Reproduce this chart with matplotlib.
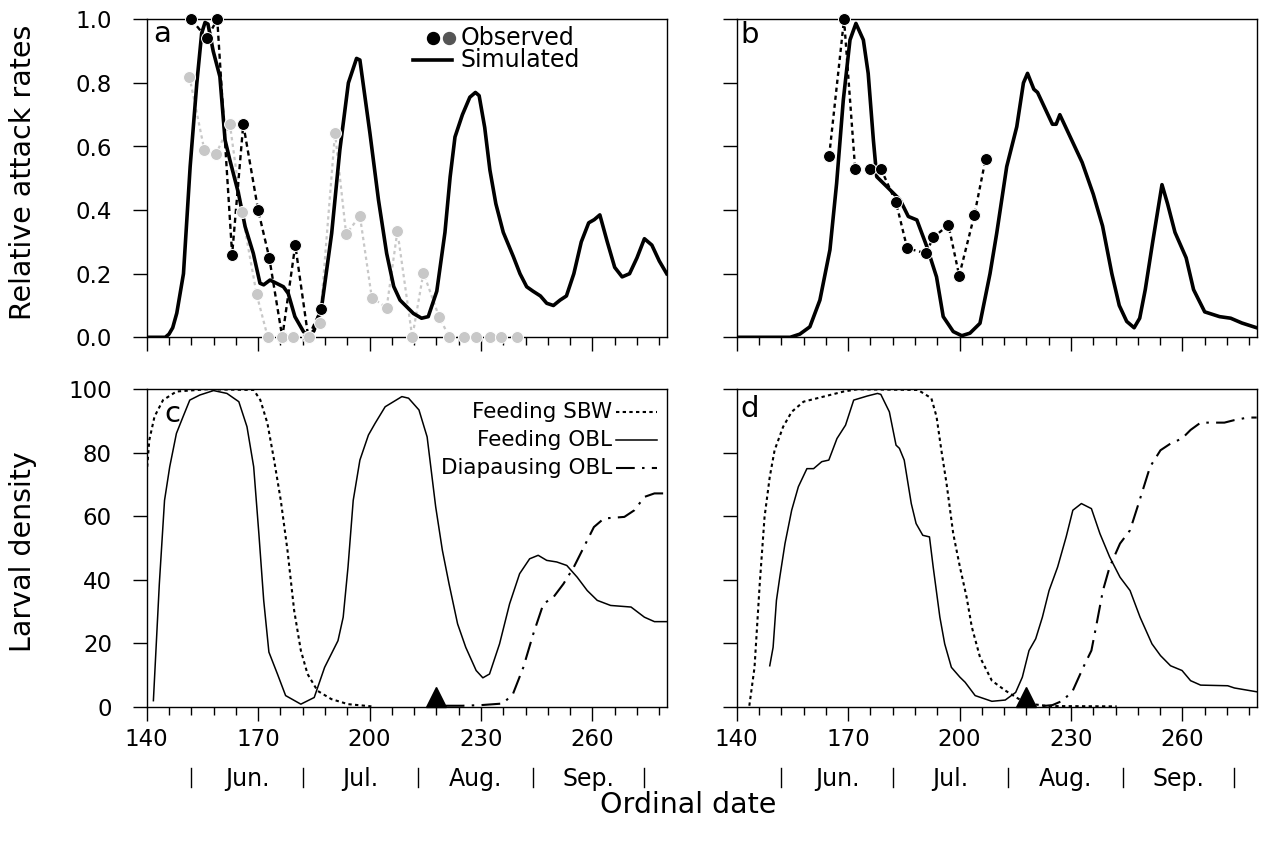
import numpy as np
import matplotlib
matplotlib.use("Agg")
import matplotlib.pyplot as plt
from matplotlib.ticker import FixedLocator
import matplotlib.transforms as mtransforms

plt.rcParams['font.family'] = ['DejaVu Sans']

# ---------------- data ----------------
# Panel a: simulated relative attack rate
a_sim_day = [140, 145, 146, 147, 148.1, 149.9, 151.7, 153.5, 154.8, 155.7, 156.5, 157.9, 159.7, 161.1,
             162.4, 164.7, 166.5, 168.7, 170.5, 171.5, 173.2, 176.8, 178.1, 179.9, 182.2, 183.5, 185,
             187.1, 189.8, 192.0, 194.3, 196.5, 197.4, 200.1, 202.4, 204.6, 206.5, 208.2, 211.8, 214.0,
             215.8, 218.1, 220.3, 221.7, 223, 225, 227, 228.5, 229.5, 231, 232.4, 234, 236, 238.7,
             240.5, 242.3, 244, 246, 247.7, 249.5, 251.3, 253, 255, 257, 259, 260.5, 262, 264, 266,
             268, 270, 272, 274, 276, 278, 280]
a_sim_val = [0, 0, 0.01, 0.03, 0.076, 0.20, 0.537, 0.80, 0.956, 0.99, 0.985, 0.90, 0.82, 0.62,
             0.557, 0.453, 0.348, 0.264, 0.17, 0.165, 0.18, 0.159, 0.138, 0.065, 0.018, 0.005, 0.02,
             0.096, 0.327, 0.589, 0.80, 0.877, 0.872, 0.642, 0.432, 0.264, 0.16, 0.117, 0.075, 0.06,
             0.065, 0.145, 0.33, 0.505, 0.63, 0.70, 0.755, 0.77, 0.76, 0.66, 0.526, 0.42, 0.33, 0.254,
             0.2, 0.159, 0.145, 0.13, 0.107, 0.10, 0.117, 0.13, 0.2, 0.3, 0.36, 0.37, 0.385, 0.30, 0.22,
             0.19, 0.2, 0.25, 0.31, 0.29, 0.24, 0.2]
# Panel a: observed (black and grey series)
a_obs1_day = [152, 156.2, 159, 163, 166, 170, 173, 176.5, 180, 183.5, 187]
a_obs1_val = [1.0, 0.94, 1.0, 0.26, 0.67, 0.40, 0.25, 0.0, 0.29, 0.0, 0.09]
a_obs2_day = [151.5, 155.5, 158.6, 162.4, 165.6, 169.6, 172.6, 176.4, 179.5, 183.7, 186.6, 190.7,
              193.7, 197.4, 200.6, 204.6, 207.5, 211.5, 214.5, 218.7, 221.5, 225.4, 228.6, 232.4,
              235.4, 239.6]
a_obs2_val = [0.82, 0.59, 0.575, 0.67, 0.395, 0.135, 0, 0, 0, 0, 0.044, 0.643, 0.324, 0.382, 0.125,
              0.093, 0.334, 0, 0.203, 0.065, 0, 0, 0, 0, 0, 0]

# Panel b
b_sim_day = [140, 154.4, 157, 159.7, 162.4, 165.1, 166.9, 168.7, 170.5, 172.1, 174.1, 175.4, 176.8,
             177.7, 180.4, 182.2, 184.0, 186.2, 188.5, 191.2, 193.8, 195.6, 198.3, 200.6, 202.8, 205.5,
             208.2, 210.0, 212.7, 215.4, 217.2, 218.3, 220, 221, 223, 225, 226, 227, 229, 233, 236,
             238.5, 241, 243, 245, 247, 248.5, 250, 252, 254.5, 256, 258, 261, 263, 266, 270, 273,
             276, 280]
b_sim_val = [0, 0, 0.01, 0.033, 0.117, 0.275, 0.484, 0.746, 0.935, 0.987, 0.935, 0.83, 0.62,
             0.505, 0.474, 0.453, 0.432, 0.38, 0.369, 0.285, 0.19, 0.065, 0.018, 0.005, 0.013, 0.044,
             0.20, 0.327, 0.537, 0.662, 0.80, 0.83, 0.78, 0.77, 0.72, 0.67, 0.67, 0.70, 0.65, 0.55, 0.45,
             0.35, 0.2, 0.1, 0.05, 0.03, 0.06, 0.15, 0.3, 0.48, 0.42, 0.33, 0.25, 0.15, 0.08, 0.065,
             0.06, 0.045, 0.03]
b_obs_day = [164.9, 168.9, 171.9, 175.9, 178.9, 182.9, 185.9, 191.0, 192.9, 197.0, 199.9, 204.0, 207.0]
b_obs_val = [0.571, 1.0, 0.528, 0.528, 0.528, 0.424, 0.28, 0.264, 0.314, 0.353, 0.194, 0.385, 0.56]

# Panel c: larval density
c_sbw_day = [140, 140.7, 142.1, 144.4, 148, 156, 168.8, 170.6, 172.5, 174.3, 176.1, 177.9, 179.7,
             181.5, 183.3, 186, 189.7, 194.2, 199.7, 200.5]
c_sbw_val = [73.5, 84, 91.4, 96.6, 99.3, 100, 99.8, 96.6, 89.3, 77.7, 65, 49.3, 30.3, 17.7, 10.3,
             5, 2.4, 0.8, 0.2, 0.1]
c_obl_day = [141.8, 143.4, 144.8, 146.2, 148, 149.8, 151.6, 154.3, 158, 161.6, 164.8, 167, 168.8,
             170.2, 171.5, 172.9, 175.2, 177.4, 181.5, 185.1, 187.9, 191.5, 192.9, 194.2, 195.6, 197.4,
             199.7, 201.5, 204.2, 208.7, 210.5, 213.3, 215.5, 217.8, 219.6, 221.4, 223.7, 225.9, 228.7,
             230.5, 232.3, 235, 237.7, 240.4, 243.1, 245.4, 247.7, 250.4, 253.1, 255.9, 258.6, 261.3,
             264.9, 270.4, 274, 276.7, 280]
c_obl_val = [1.9, 38.7, 65, 75.6, 86.1, 91.4, 96.6, 98.2, 99.6, 98.7, 96.1, 88.2, 75.6, 54.5, 33.5,
             17.2, 10.3, 3.5, 0.8, 2.9, 12.4, 20.8, 28.2, 44, 65, 77.7, 85.6, 89.3, 94.5, 97.7, 97.2,
             93.5, 85, 63, 49.3, 38.7, 26.1, 18.7, 11.4, 9.1, 10.3, 19.8, 32.4, 41.9, 46.6, 47.7, 46.1,
             45.6, 44.5, 40.8, 36.6, 33.5, 31.9, 31.4, 28.2, 26.8, 26.8]
c_dia_day = [220.5, 225, 230, 235.9, 238.6, 241.4, 244.1, 246.8, 249.5, 252.2, 255, 257.7, 260.4,
             263.1, 268.6, 271.3, 274, 276.7, 280]
c_dia_val = [0.3, 0.3, 0.5, 1.0, 4, 12.4, 23, 32.4, 34.5, 38.7, 44, 50.3, 56.6, 59.3, 59.8, 61.9,
             66.1, 67.2, 67.2]

# Panel d
d_sbw_day = [143.4, 144.8, 146.2, 147.5, 148.9, 150.2, 152.5, 154.8, 158, 163.4, 168.8, 172.5, 188.8,
             192.4, 193.8, 195.1, 196.5, 198.3, 200.1, 201.9, 203.3, 205.5, 208.7, 212.3, 216, 219.6,
             224.1, 242.3]
d_sbw_val = [0.3, 12.4, 38.7, 59.8, 72.4, 80.8, 88.2, 92.9, 96.1, 97.7, 99.3, 100, 99.8, 97.2, 91.4,
             80.8, 70.3, 54.5, 44, 34.5, 25.1, 15.6, 8.2, 5.1, 2.4, 0.8, 0.2, 0.1]
d_obl_day = [148.9, 149.8, 150.7, 151.6, 153, 154.8, 156.6, 158.9, 160.7, 162.9, 164.8, 167, 169.3,
             171.5, 175.2, 177.9, 178.8, 181.1, 182.9, 183.8, 185.1, 187, 188.3, 190.1, 191.9, 192.9,
             194.7, 196.0, 197.8, 200.1, 201.5, 204.2, 208.7, 212.3, 215.1, 216.9, 218.7, 220.5, 222.3,
             224.1, 226.4, 228.7, 230.5, 232.8, 235.5, 237.8, 240.4, 243.2, 245.9, 248.6, 251.8, 254.1,
             256.8, 259.9, 262.2, 264.9, 272.2, 274, 280]
d_obl_val = [12.9, 18.7, 33.5, 40.8, 51.4, 61.9, 69.3, 75, 75, 77.2, 77.7, 84.5, 88.7, 96.6, 97.9,
             98.7, 98.4, 92.9, 82.4, 81.4, 77.7, 64, 57.7, 54, 53.5, 44, 28.2, 19.8, 12.4, 9.3, 7.7,
             3.5, 1.7, 2.1, 4.5, 9.3, 17.7, 21.4, 28.2, 36.6, 44, 53.5, 61.9, 64, 62.4, 54.5, 47.2,
             40.8, 36.6, 28.2, 19.8, 16.1, 12.9, 11.4, 8.2, 6.8, 6.6, 5.9, 4.7]
d_dia_day = [222.3, 225, 227.8, 230.5, 233.3, 235.5, 236.9, 238.6, 240.4, 243.2, 245.9, 248.2, 251.3,
             254.1, 256.8, 259.9, 262.2, 264.9, 271.3, 274, 277.6, 280]
d_dia_val = [0.2, 0.5, 1.9, 5.1, 12.4, 17.7, 26.1, 36.6, 44, 51.4, 55.6, 64, 75.6, 80.8, 82.9, 84.5,
             87.2, 89.5, 89.5, 90.3, 91.1, 91.1]

trigger_day = 218
month_bounds = [152, 182, 213, 244, 274]
month_names = ['Jun.', 'Jul.', 'Aug.', 'Sep.']

# ---------------- figure ----------------
W, H = 1262, 846
fig = plt.figure(figsize=(W / 100, H / 100), dpi=100)

def box(x0, y_top, x1, y_bot):
    return [x0 / W, 1 - y_bot / H, (x1 - x0) / W, (y_bot - y_top) / H]

ax_a = fig.add_axes(box(146.7, 19.3, 666.7, 337.3))
ax_b = fig.add_axes(box(736.7, 19.3, 1256.7, 337.3))
ax_c = fig.add_axes(box(146.7, 389.3, 666.7, 706.7))
ax_d = fig.add_axes(box(736.7, 389.3, 1256.7, 706.7))

TICK_FS = 16.5
majors = [140, 170, 200, 230, 260]
minors = [d for d in range(146, 280, 6) if d not in majors]

for ax in (ax_a, ax_b, ax_c, ax_d):
    ax.set_xlim(140, 280)
    for s in ax.spines.values():
        s.set_linewidth(1.0)
        s.set_color('black')
    ax.xaxis.set_major_locator(FixedLocator(majors))
    ax.xaxis.set_minor_locator(FixedLocator(minors))
    ax.tick_params(axis='x', which='major', direction='out', length=10, width=1.0,
                   labelsize=TICK_FS, pad=5, top=False)
    ax.tick_params(axis='x', which='minor', direction='out', length=5.5, width=1.0, top=False)
    ax.tick_params(axis='y', which='major', direction='out', length=10, width=1.0,
                   labelsize=TICK_FS, pad=15, right=False)

for ax in (ax_a, ax_b):
    ax.set_ylim(0, 1.0)
    ax.set_yticks([0, 0.2, 0.4, 0.6, 0.8, 1.0])
    ax.tick_params(axis='x', labelbottom=False)
ax_a.set_yticklabels(['0.0', '0.2', '0.4', '0.6', '0.8', '1.0'])
ax_b.tick_params(axis='y', labelleft=False)

for ax in (ax_c, ax_d):
    ax.set_ylim(0, 100)
    ax.set_yticks([0, 20, 40, 60, 80, 100])
ax_c.set_yticklabels(['0', '20', '40', '60', '80', '100'])
ax_d.tick_params(axis='y', labelleft=False)

GREY = '#c8c8c8'
# ---- panel a ----
ax_a.plot(a_obs2_day, a_obs2_val, linestyle=(0, (1.5, 1.5)), color=GREY, lw=1.6, zorder=2)
ax_a.plot(a_sim_day, a_sim_val, color='black', lw=2.6, zorder=3, solid_joinstyle='round')
ax_a.plot(a_obs1_day, a_obs1_val, linestyle=(0, (2.2, 1.6)), color='black', lw=1.7, zorder=4)
ax_a.plot(a_obs1_day, a_obs1_val, linestyle='none', marker='o', ms=8.6, mfc='black',
          mec='white', mew=0.7, zorder=5, clip_on=False)
ax_a.plot(a_obs2_day, a_obs2_val, linestyle='none', marker='o', ms=8.6, mfc=GREY,
          mec='white', mew=0.7, zorder=6, clip_on=False)

# ---- panel b ----
ax_b.plot(b_sim_day, b_sim_val, color='black', lw=2.6, zorder=3, solid_joinstyle='round')
ax_b.plot(b_obs_day, b_obs_val, linestyle=(0, (1.8, 1.6)), color='black', lw=1.7, zorder=4)
ax_b.plot(b_obs_day, b_obs_val, linestyle='none', marker='o', ms=8.6, mfc='black',
          mec='white', mew=0.7, zorder=5, clip_on=False)

# ---- panels c, d ----
SBW_LS = (0, (1.6, 1.6))
DIA_LS = (0, (9, 3.5, 1.2, 3.5))
for ax, sd, sv, od, ov, dd, dv in ((ax_c, c_sbw_day, c_sbw_val, c_obl_day, c_obl_val, c_dia_day, c_dia_val),
                                   (ax_d, d_sbw_day, d_sbw_val, d_obl_day, d_obl_val, d_dia_day, d_dia_val)):
    ax.plot(sd, sv, linestyle=SBW_LS, color='black', lw=1.5)
    ax.plot(od, ov, color='black', lw=1.1)
    ax.plot(dd, dv, linestyle=DIA_LS, color='black', lw=1.5)
    ax.plot([trigger_day], [2.9], marker='^', ms=15, color='black', clip_on=False, zorder=6)
    trans = mtransforms.blended_transform_factory(ax.transData, ax.transAxes)
    for mb in month_bounds:
        ax.plot([mb, mb], [-0.193, -0.253], transform=trans, color='black', lw=1.0, clip_on=False)
    for i, name in enumerate(month_names):
        xm = 0.5 * (month_bounds[i] + month_bounds[i + 1])
        ax.text(xm, -0.228, name, transform=trans, ha='center', va='center', fontsize=17)

# ---- legends ----
ax_a.plot([0.551], [0.942], transform=ax_a.transAxes, marker='o', ms=8.6, color='black', clip_on=False)
ax_a.plot([0.582], [0.942], transform=ax_a.transAxes, marker='o', ms=8.6, color='#555555', clip_on=False)
ax_a.plot([0.512, 0.588], [0.872, 0.872], transform=ax_a.transAxes, color='black', lw=2.6)
ax_a.text(0.603, 0.942, 'Observed', transform=ax_a.transAxes, ha='left', va='center', fontsize=17)
ax_a.text(0.603, 0.872, 'Simulated', transform=ax_a.transAxes, ha='left', va='center', fontsize=17)

leg_items = [('Feeding SBW', SBW_LS, 1.5), ('Feeding OBL', '-', 1.1), ('Diapausing OBL', DIA_LS, 1.5)]
leg_y = [0.9285, 0.8418, 0.752]
for (lab, ls, lw), yy in zip(leg_items, leg_y):
    ax_c.text(0.895, yy, lab, transform=ax_c.transAxes, ha='right', va='center', fontsize=15.5)
    ax_c.plot([0.9025, 0.981], [yy, yy], transform=ax_c.transAxes, linestyle=ls, color='black', lw=lw)

# ---- panel letters ----
for ax, letter, (x, y) in ((ax_a, 'a', (0.029, 0.955)), (ax_b, 'b', (0.0256, 0.95)),
                           (ax_c, 'c', (0.0487, 0.922)), (ax_d, 'd', (0.0256, 0.938))):
    ax.text(x, y, letter, transform=ax.transAxes, ha='center', va='center', fontsize=21)

# ---- axis titles ----
fig.text(23 / W, 1 - 172.5 / H, 'Relative attack rates', rotation=90, ha='center', va='center', fontsize=20.5)
fig.text(23 / W, 1 - 551.7 / H, 'Larval density', rotation=90, ha='center', va='center', fontsize=20.5)
fig.text(688 / W, 1 - 805 / H, 'Ordinal date', ha='center', va='center', fontsize=20.5)

fig.savefig('out.png', dpi=100)
